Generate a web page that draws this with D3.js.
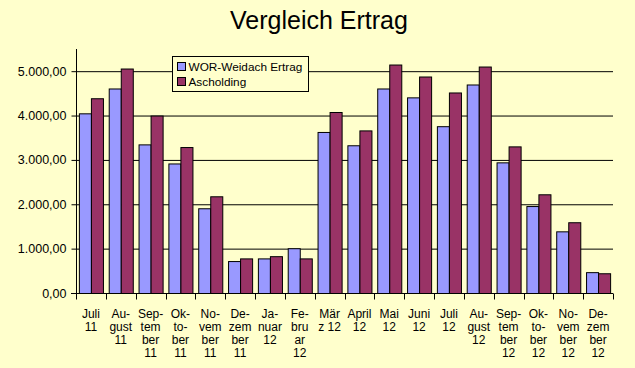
<!DOCTYPE html>
<html><head><meta charset="utf-8">
<script src="https://cdn.jsdelivr.net/npm/d3@7"></script>
<style>html,body{margin:0;padding:0;background:#FFFFCC;}svg{display:block;}</style>
</head><body>
<script>
const categories = ["Juli 11","August 11","September 11","Oktober 11","November 11","Dezember 11","Januar 12","Februar 12","März 12","April 12","Mai 12","Juni 12","Juli 12","August 12","September 12","Oktober 12","November 12","Dezember 12"];
const tickLabels = [["Juli","11"],["Au-","gust","11"],["Sep-","tem","ber","11"],["Ok-","to-","ber","11"],["No-","vem","ber","11"],["De-","zem","ber","11"],["Ja-","nuar","12"],["Fe-","bru","ar","12"],["Mär","z 12"],["April","12"],["Mai","12"],["Juni","12"],["Juli","12"],["Au-","gust","12"],["Sep-","tem","ber","12"],["Ok-","to-","ber","12"],["No-","vem","ber","12"],["De-","zem","ber","12"]];
const seriesNames = ["WOR-Weidach Ertrag","Ascholding"];
const weidach = [4050,4610,3350,2920,1910,720,780,1010,3630,3330,4610,4410,3760,4700,2945,1960,1390,470];
const ascholding = [4390,5060,4000,3290,2180,780,830,780,4080,3665,5150,4880,4520,5105,3305,2225,1595,445];
const yTicks = [0,1000,2000,3000,4000,5000];
const title = "Vergleich Ertrag";

const W = 635, H = 368;
const m = {left:76, right:22, top:49, bottom:75};
const svg = d3.select("body").append("svg").attr("width",W).attr("height",H);
svg.append("rect").attr("width",W).attr("height",H).attr("fill","#FFFFCC");
const font = "'Liberation Sans', Arial, sans-serif";

const x = d3.scaleBand().domain(categories).range([m.left, W-m.right]).paddingInner(0).paddingOuter(0);
const y = d3.scaleLinear().domain([0,5500]).range([H-m.bottom, m.top]);
const x1 = d3.scaleBand().domain([0,1]).range([0, x.bandwidth()]).paddingInner(0).paddingOuter(0.24);

svg.append("text").attr("x",319).attr("y",29).attr("text-anchor","middle")
  .attr("font-family",font).attr("font-size",25).attr("fill","#000").text(title);

// gridlines
svg.append("g").selectAll("line").data(yTicks.filter(d=>d>0)).join("line")
  .attr("x1",m.left).attr("x2",W-m.right).attr("y1",d=>y(d)+0.5).attr("y2",d=>y(d)+0.5)
  .attr("stroke","#000").attr("stroke-width",1);

// bars
const colors = ["#9999FF","#993366"];
const data = categories.map((c,i)=>({c, v:[weidach[i], ascholding[i]]}));
const g = svg.append("g").selectAll("g").data(data).join("g").attr("transform",d=>`translate(${x(d.c)},0)`);
g.selectAll("rect").data(d=>d.v.map((v,k)=>({v,k}))).join("rect")
  .attr("x",d=>x1(d.k)+0.5).attr("width",x1.bandwidth())
  .attr("y",d=>y(d.v)+0.5).attr("height",d=>y(0)-y(d.v))
  .attr("fill",d=>colors[d.k]).attr("stroke","#000").attr("stroke-width",1);

// y axis
const fmt = d=> d3.format(",.2f")(d).replace(/,/g,"#").replace(/\./g,",").replace(/#/g,".");
const yAxis = svg.append("g").attr("transform",`translate(${m.left+0.5},0)`)
  .call(d3.axisLeft(y).tickValues(yTicks).tickFormat(fmt).tickSize(5).tickPadding(5));
yAxis.select(".domain").attr("stroke","#000").attr("d",`M0,${m.top}V${y(0)}`);
yAxis.selectAll(".tick line").attr("stroke","#000");
yAxis.selectAll("text").attr("font-family",font).attr("font-size",12.5).attr("fill","#000");

// x axis
const xAxis = svg.append("g").attr("transform",`translate(0,${y(0)+0.5})`);
xAxis.append("line").attr("x1",m.left-5).attr("x2",W-m.right).attr("stroke","#000");
const bounds = categories.map(c=>x(c)).concat([x(categories[categories.length-1])+x.bandwidth()]);
xAxis.selectAll("line.t").data(bounds).join("line").attr("class","t")
  .attr("x1",d=>Math.round(d)+0.5).attr("x2",d=>Math.round(d)+0.5).attr("y1",0).attr("y2",6).attr("stroke","#000");
const lab = xAxis.selectAll("text").data(categories).join("text")
  .attr("font-family",font).attr("font-size",12).attr("fill","#000").attr("text-anchor","middle");
lab.each(function(c,i){
  const t = d3.select(this);
  tickLabels[i].forEach((s,j)=>{
    t.append("tspan").attr("x",x(c)+x.bandwidth()/2).attr("y",24+j*13.3).text(s);
  });
});

// legend
const lg = svg.append("g").attr("transform","translate(172.5,56.5)");
lg.append("rect").attr("width",136).attr("height",35).attr("fill","#FFFFCC").attr("stroke","#000");
seriesNames.forEach((n,k)=>{
  lg.append("rect").attr("x",5).attr("y",6+k*15).attr("width",8).attr("height",8).attr("fill",colors[k]).attr("stroke","#000");
  lg.append("text").attr("x",16).attr("y",14.5+k*15).attr("font-family",font).attr("font-size",11.8).attr("fill","#000").text(n);
});
</script>
</body></html>
